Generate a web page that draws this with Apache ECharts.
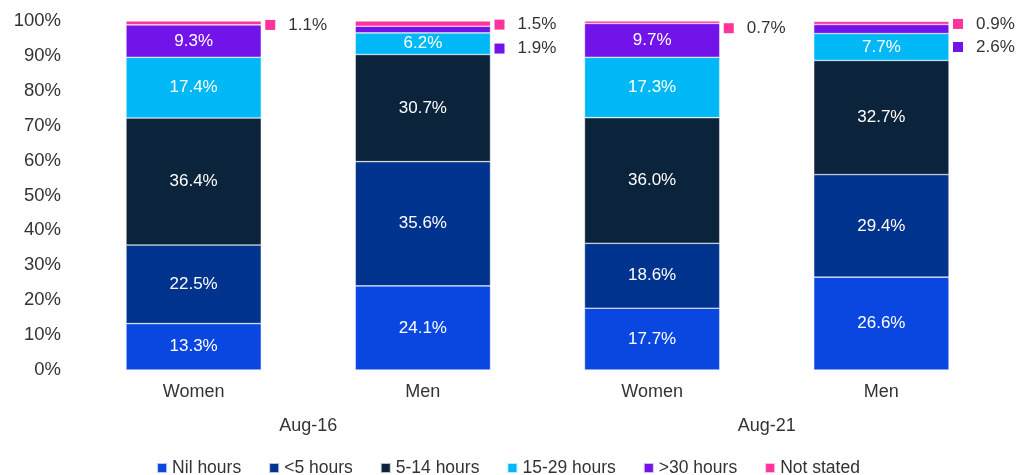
<!DOCTYPE html>
<html>
<head>
<meta charset="utf-8">
<script src="https://cdn.jsdelivr.net/npm/echarts@6/dist/echarts.min.js"></script>
<style>
  html, body { margin: 0; padding: 0; background: #fff; }
  #chart { width: 1016px; height: 475px; }
</style>
</head>
<body>
<div id="chart"></div>
<script>
// Hours worked per week, share of employed persons by sex
const categories = ['Women', 'Men', 'Women', 'Men'];
const periods = ['Aug-16', 'Aug-21'];
const seriesNames = ['Nil hours', '<5 hours', '5-14 hours', '15-29 hours', '>30 hours', 'Not stated'];

const nilHours    = [13.3, 24.1, 17.7, 26.6];
const under5      = [22.5, 35.6, 18.6, 29.4];
const hours5to14  = [36.4, 30.7, 36.0, 32.7];
const hours15to29 = [17.4, 6.2, 17.3, 7.7];
const over30      = [9.3, 1.9, 9.7, 2.6];
const notStated   = [1.1, 1.5, 0.7, 0.9];

const yTicks = [0, 10, 20, 30, 40, 50, 60, 70, 80, 90, 100];

const colors = ['#0A47E0', '#00338D', '#0C233C', '#00B8F5', '#7213EA', '#FD349C'];
const FONT = '"Liberation Sans", Arial, sans-serif';

const values = [nilHours, under5, hours5to14, hours15to29, over30, notStated];

// Small segments get their value beside the bar with a colour key square
const outsideOffsets = {
  4: { 1: 19, 3: 18 },
  5: { 0: 2, 1: 1, 2: 6, 3: 1 }
};

function buildData(si) {
  return values[si].map((v, i) => {
    const off = outsideOffsets[si] && outsideOffsets[si][i];
    if (off === undefined) return v;
    return {
      value: v,
      label: {
        show: true,
        position: 'right',
        distance: 4,
        offset: [0, off],
        formatter: p => '{s|}{t|' + p.value.toFixed(1) + '%}',
        rich: {
          s: { backgroundColor: colors[si], width: 10, height: 10 },
          t: { color: '#333', fontSize: 17, fontFamily: FONT, padding: [0, 0, 0, 13] }
        }
      }
    };
  });
}

const series = seriesNames.map((name, si) => ({
  name,
  type: 'bar',
  stack: 'total',
  barWidth: '59%',
  data: buildData(si),
  itemStyle: { color: colors[si], borderColor: 'rgba(255,255,255,0.7)', borderWidth: 0.6 },
  label: {
    show: si < 5,
    position: 'inside',
    color: '#fff',
    fontSize: 17,
    fontFamily: FONT,
    formatter: p => (si === 4 && p.value < 5) ? '' : p.value.toFixed(1) + '%'
  }
}));

const chart = echarts.init(document.getElementById('chart'), null, { renderer: 'canvas' });
chart.setOption({
  animation: false,
  color: colors,
  grid: { left: 79, right: 20, top: 21, bottom: 105 },
  legend: {
    top: 454,
    left: 'center',
    icon: 'rect',
    itemWidth: 10,
    itemHeight: 10,
    itemGap: 27,
    textStyle: { color: '#333', fontSize: 17.5, fontFamily: FONT },
    data: seriesNames
  },
  xAxis: [
    {
      type: 'category',
      data: categories,
      axisLine: { show: false },
      axisTick: { show: false },
      axisLabel: { color: '#333', fontSize: 18, fontFamily: FONT, margin: 13 }
    },
    {
      type: 'category',
      data: periods,
      position: 'bottom',
      offset: 34,
      axisLine: { show: false },
      axisTick: { show: false },
      axisLabel: { color: '#333', fontSize: 18, fontFamily: FONT, margin: 13 }
    }
  ],
  yAxis: {
    type: 'value',
    min: yTicks[0],
    max: yTicks[yTicks.length - 1],
    interval: 10,
    axisLine: { show: false },
    axisTick: { show: false },
    splitLine: { show: false },
    axisLabel: { color: '#333', fontSize: 18.5, fontFamily: FONT, margin: 18, formatter: '{value}%' }
  },
  series
});
</script>
</body>
</html>
